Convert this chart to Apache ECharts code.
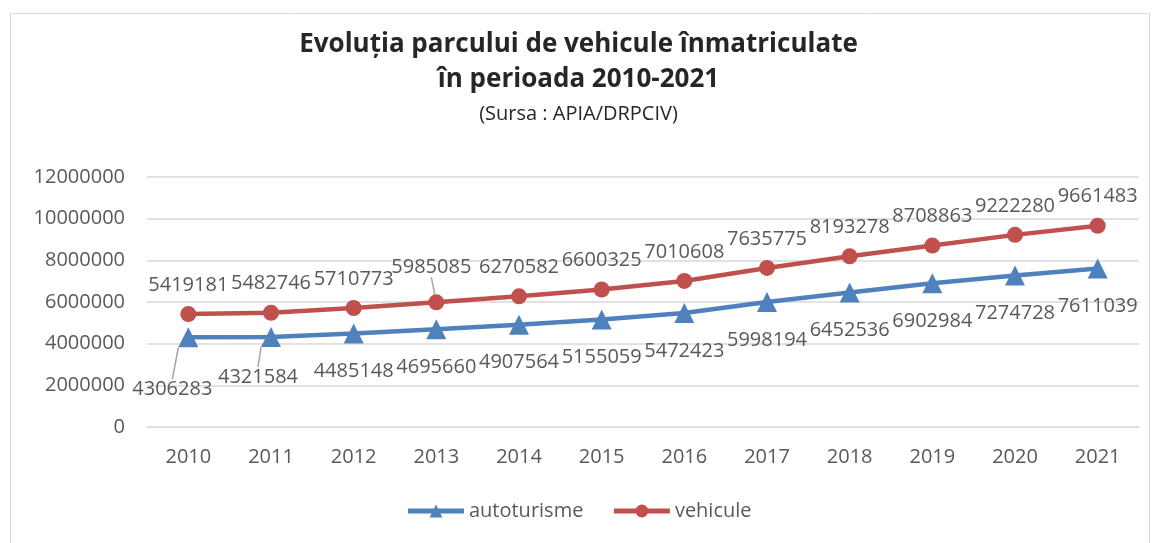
<!DOCTYPE html>
<html>
<head>
<meta charset="utf-8">
<script src="https://cdn.jsdelivr.net/npm/echarts@6/dist/echarts.min.js"></script>
<style>
  html, body { margin: 0; padding: 0; background: #fff; }
  #chart { width: 1157px; height: 543px; }
</style>
</head>
<body>
<div id="chart"></div>
<script>
// date
const ani = ['2010', '2011', '2012', '2013', '2014', '2015', '2016', '2017', '2018', '2019', '2020', '2021'];
const autoturisme = [4306283, 4321584, 4485148, 4695660, 4907564, 5155059, 5472423, 5998194, 6452536, 6902984, 7274728, 7611039];
const vehicule = [5419181, 5482746, 5710773, 5985085, 6270582, 6600325, 7010608, 7635775, 8193278, 8708863, 9222280, 9661483];

const font = '"Open Sans", "Noto Sans", sans-serif';
const gri = '#595959';

// etichete mutate manual (ca in Excel), cu linie de legatura
const mutate = {
  '0-0': { dx: -16, dy: 14 },
  '0-1': { dx: -13, dy: 2 },
  '1-3': { dx: -5, dy: -6 }
};

function cuLinie(vals, serie) {
  return vals.map((v, i) => mutate[serie + '-' + i]
    ? { value: v, labelLine: { show: true } }
    : v);
}

let myChart = echarts.init(document.getElementById('chart'));

myChart.setOption({
  animation: false,
  backgroundColor: '#fff',
  graphic: [{
    type: 'rect',
    shape: { x: 10.5, y: 13.5, width: 1139, height: 540 },
    style: { fill: 'none', stroke: '#d9d9d9', lineWidth: 1 },
    silent: true
  }],
  title: [{
    text: 'Evoluția parcului de vehicule înmatriculate\nîn perioada 2010-2021',
    left: 'center',
    top: 22,
    textStyle: { fontFamily: font, fontWeight: 'bold', fontSize: 26, color: '#262626', lineHeight: 35 }
  }, {
    text: '(Sursa : APIA/DRPCIV)',
    left: 'center',
    top: 99,
    textStyle: { fontFamily: font, fontWeight: 'normal', fontSize: 20, color: '#262626' }
  }],
  legend: {
    bottom: 17,
    left: 'center',
    itemWidth: 56,
    itemHeight: 16,
    itemGap: 28,
    textStyle: { fontFamily: font, fontSize: 20, color: gri },
    lineStyle: { width: 5 },
    data: ['autoturisme', 'vehicule']
  },
  grid: { left: 147, right: 18, top: 177, bottom: 116 },
  xAxis: {
    type: 'category',
    data: ani,
    axisTick: { show: false },
    axisLine: { lineStyle: { color: '#d9d9d9' } },
    axisLabel: { fontFamily: font, fontSize: 20, color: gri, margin: 20 }
  },
  yAxis: {
    type: 'value',
    min: 0,
    max: 12000000,
    interval: 2000000,
    axisLine: { show: false },
    axisTick: { show: false },
    splitLine: { lineStyle: { color: '#d9d9d9', width: 1.5 } },
    axisLabel: { fontFamily: font, fontSize: 20, color: gri, margin: 22, formatter: v => String(v) }
  },
  labelLayout: function (p) {
    const m = mutate[p.seriesIndex + '-' + p.dataIndex];
    return m ? { dx: m.dx, dy: m.dy } : {};
  },
  series: [{
    name: 'autoturisme',
    type: 'line',
    data: cuLinie(autoturisme, 0),
    symbol: 'triangle',
    symbolSize: 20,
    lineStyle: { width: 4.5, color: '#4F81BD' },
    itemStyle: { color: '#4F81BD' },
    labelLine: { show: false, lineStyle: { color: '#a6a6a6', width: 1.5 } },
    label: { show: true, position: 'bottom', distance: 18, fontFamily: font, fontSize: 20, color: gri }
  }, {
    name: 'vehicule',
    type: 'line',
    data: cuLinie(vehicule, 1),
    symbol: 'circle',
    symbolSize: 16,
    lineStyle: { width: 4.5, color: '#C0504D' },
    itemStyle: { color: '#C0504D' },
    labelLine: { show: false, lineStyle: { color: '#a6a6a6', width: 1.5 } },
    label: { show: true, position: 'top', distance: 11, fontFamily: font, fontSize: 20, color: gri }
  }]
});

window.onresize = function () {
  myChart.resize();
};
</script>
</body>
</html>
